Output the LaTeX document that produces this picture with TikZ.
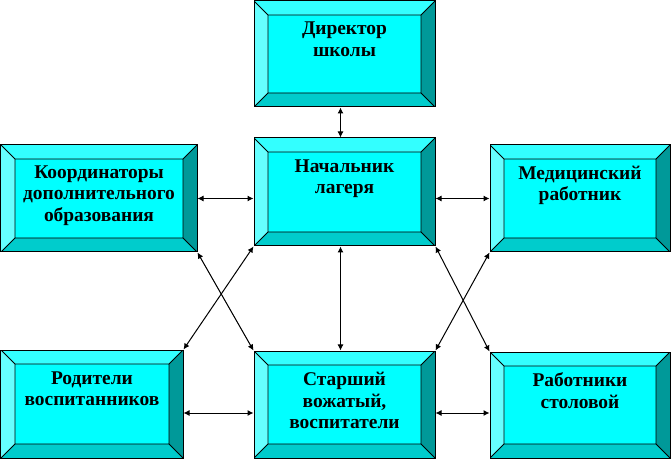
\documentclass[tikz,border=0pt]{standalone}
\usepackage{fontspec}
\setmainfont{Liberation Serif}
\usetikzlibrary{arrows.meta, calc}
\definecolor{face}{HTML}{00FFFF}
\definecolor{bevtop}{HTML}{33FFFF}
\definecolor{bevleft}{HTML}{66FFFF}
\definecolor{bevright}{HTML}{009999}
\definecolor{bevbot}{HTML}{00CCCC}
\newcommand{\bev}{14}
\newcommand{\boxtxt}[2]{\parbox[c][#1][t]{170bp}{\centering\fontsize{19.5}{21.5}\selectfont\bfseries #2}}

\begin{document}
\begin{tikzpicture}[x=1bp, y=-1bp,
    box/.style={draw, line width=1bp, fill=face, inner sep=0pt,
      path picture={
        \path (path picture bounding box.north west) coordinate (bA)
              (path picture bounding box.north east) coordinate (bB)
              (path picture bounding box.south east) coordinate (bC)
              (path picture bounding box.south west) coordinate (bD);
        \path ($(bA)+(\bev,\bev)$) coordinate (ba)
              ($(bB)+(-\bev,\bev)$) coordinate (bb)
              ($(bC)+(-\bev,-\bev)$) coordinate (bc)
              ($(bD)+(\bev,-\bev)$) coordinate (bd);
        \fill[bevtop] (bA)--(bB)--(bb)--(ba)--cycle;
        \fill[bevright] (bB)--(bC)--(bc)--(bb)--cycle;
        \fill[bevbot] (bC)--(bD)--(bd)--(bc)--cycle;
        \fill[bevleft] (bD)--(bA)--(ba)--(bd)--cycle;
        \draw[line width=0.8bp] (ba) rectangle (bc)
          (bA)--(ba) (bB)--(bb) (bC)--(bc) (bD)--(bd);
      }},
    link/.style={line width=1bp, {Latex[length=6bp,width=6bp]}-{Latex[length=6bp,width=6bp]}}
  ]
  \useasboundingbox (0,0) rectangle (671,460);

  \node[box, minimum width=181bp, minimum height=106bp] (dir) at (344.5,54)
    {\boxtxt{64bp}{Директор\\школы}};
  \node[box, minimum width=181bp, minimum height=108bp] (head) at (344.5,192)
    {\boxtxt{65bp}{Начальник\\лагеря}};
  \node[box, minimum width=196bp, minimum height=107bp] (coord) at (99,198.5)
    {\boxtxt{66bp}{Координаторы\\дополнительного\\образования}};
  \node[box, minimum width=180bp, minimum height=107bp] (med) at (580,198.5)
    {\boxtxt{65bp}{Медицинский\\работник}};
  \node[box, minimum width=182bp, minimum height=108bp] (par) at (92,404)
    {\boxtxt{65bp}{Родители\\воспитанников}};
  \node[box, minimum width=181bp, minimum height=107bp] (senior) at (344.5,404.5)
    {\boxtxt{64bp}{Старший\\вожатый,\\воспитатели}};
  \node[box, minimum width=180bp, minimum height=106bp] (cook) at (580,405)
    {\boxtxt{64bp}{Работники\\столовой}};

  \coordinate (dirS) at ($(dir.south)+(-4,0)$);
  \coordinate (headS) at ($(head.south)+(-4,0)$);
  \coordinate (parE) at ($(par.east)+(0,9)$);
  \coordinate (seniorE) at ($(senior.east)+(0,8.5)$);

  \draw[link] (dirS) -- (dirS |- head.north);
  \draw[link] (coord.east) -- (coord.east -| head.west);
  \draw[link] (med.west) -- (med.west -| head.east);
  \draw[link] (headS) -- (headS |- senior.north);
  \draw[link] (coord.south east) -- (senior.north west);
  \draw[link] (head.south west) -- (par.north east);
  \draw[link] (head.south east) -- (cook.north west);
  \draw[link] (med.south west) -- (senior.north east);
  \draw[link] (parE) -- (parE -| senior.west);
  \draw[link] (seniorE) -- (seniorE -| cook.west);
\end{tikzpicture}
\end{document}
